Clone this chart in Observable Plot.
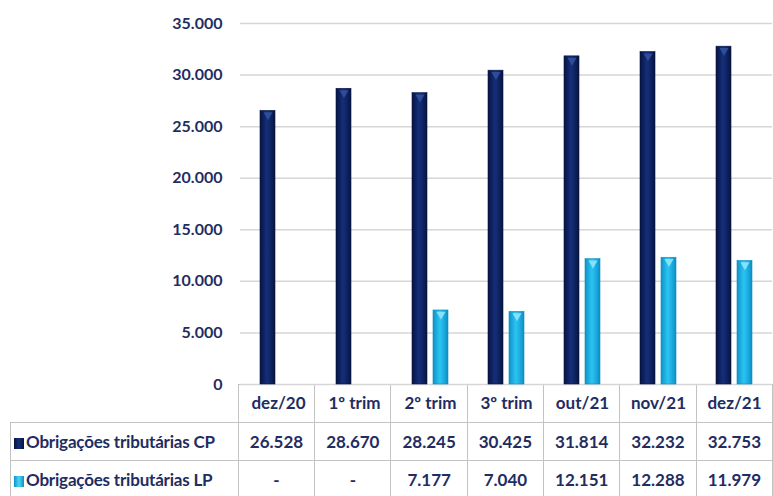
<!DOCTYPE html>
<html>
<head>
<meta charset="utf-8">
<script src="https://cdn.jsdelivr.net/npm/d3@7"></script>
<script src="https://cdn.jsdelivr.net/npm/@observablehq/plot@0.6"></script>
<style>
  html, body { margin: 0; padding: 0; background: #fff; }
  #wrap { position: relative; width: 773px; height: 496px; overflow: hidden; font-family: Lato, "Open Sans", sans-serif; color: #1f2d62; }
  #wrap svg { position: absolute; left: 0; top: 0; background: transparent; }
  table.tbl { position: absolute; left: 10px; top: 384px; border-collapse: collapse; table-layout: fixed; font-weight: 700; font-size: 17px; color: #1f2d62; }
  table.tbl td { border: 1.5px solid #c3c3c3; text-align: center; padding: 0; white-space: nowrap; overflow: hidden; }
  table.tbl tr.head td { height: 37px; }
  table.tbl tr.head td.blank { border: none; border-right: 1.5px solid #c3c3c3; }
  table.tbl tr.row td { height: 37px; }
  table.tbl td.lab { text-align: left; padding-left: 3px; letter-spacing: -0.2px; }
  .sw { display: inline-block; width: 10px; height: 11px; margin-right: 2px; vertical-align: -1px; }
</style>
</head>
<body>
<div id="wrap"></div>
<script>
// ---- data ----
const categories = ["dez/20", "1º trim", "2º trim", "3º trim", "out/21", "nov/21", "dez/21"];
const seriesNames = ["Obrigações tributárias CP", "Obrigações tributárias LP"];
const cpValues = [26528, 28670, 28245, 30425, 31814, 32232, 32753];
const lpValues = [null, null, 7177, 7040, 12151, 12288, 11979];
const yTicks = [0, 5000, 10000, 15000, 20000, 25000, 30000, 35000];

const ptBR = d3.formatLocale({decimal: ",", thousands: ".", grouping: [3], currency: ["R$", ""]});
const fmt = ptBR.format(",d");

const data = [];
categories.forEach((c, i) => {
  data.push({cat: c, series: "CP", value: cpValues[i]});
  if (lpValues[i] != null) data.push({cat: c, series: "LP", value: lpValues[i]});
});
const cpData = data.filter(d => d.series === "CP");
const lpData = data.filter(d => d.series === "LP");

const textColor = "#1f2d62";

const chart = Plot.plot({
  width: 773,
  height: 422,
  marginLeft: 238,
  marginRight: 0,
  marginTop: 23,
  marginBottom: 38,
  style: {fontFamily: "Lato, 'Open Sans', sans-serif", fontSize: "16px", fontWeight: 700, color: textColor, background: "transparent", overflow: "visible"},
  fx: {domain: categories, padding: 0, label: null},
  x: {domain: ["CP", "LP"], paddingInner: 0.273, paddingOuter: 0.873, axis: null},
  y: {domain: [0, 35000], label: null},
  marks: [
    Plot.gridY(yTicks, {stroke: "#d6d6d6", strokeOpacity: 1, strokeWidth: 1.5}),
    Plot.axisY(yTicks, {tickSize: 0, tickPadding: 18, tickFormat: fmt, fill: textColor, fontSize: 16, fontWeight: 700, label: null}),
    Plot.axisFx({anchor: "bottom", tickSize: 0, tickPadding: 12, fill: textColor, fontSize: 17, fontWeight: 700, label: null}),
    Plot.barY(cpData, {fx: "cat", x: "series", y: "value", fill: "url(#gCP)", stroke: "#071645", strokeWidth: 0.6}),
    Plot.barY(lpData, {fx: "cat", x: "series", y: "value", fill: "url(#gLP)", stroke: "#0b8cc0", strokeWidth: 0.6}),
    Plot.dot(cpData, {fx: "cat", x: "series", y: "value", symbol: "triangle", rotate: 180, r: 3.4, dy: 4, fill: "#34549f", fillOpacity: 0.85}),
    Plot.dot(lpData, {fx: "cat", x: "series", y: "value", symbol: "triangle", rotate: 180, r: 3.4, dy: 4, fill: "#8fe6fb", fillOpacity: 0.9})
  ]
});

// gradients for cylindrical look
const defs = d3.select(chart).insert("defs", ":first-child");
function grad(id, stops) {
  const g = defs.append("linearGradient").attr("id", id).attr("x1", "0").attr("x2", "1").attr("y1", "0").attr("y2", "0");
  stops.forEach(([o, c]) => g.append("stop").attr("offset", o).attr("stop-color", c));
}
grad("gCP", [[0, "#061440"], [0.45, "#142e78"], [0.6, "#12296e"], [1, "#061440"]]);
grad("gLP", [[0, "#0c93c9"], [0.45, "#2cc3f2"], [0.6, "#25b8ea"], [1, "#0c8fc4"]]);

const wrap = document.getElementById("wrap");

// table
const table = document.createElement("table");
table.className = "tbl";
const colW = (773 - 238) / categories.length;
const cg = document.createElement("colgroup");
const c0 = document.createElement("col"); c0.style.width = "228px"; cg.appendChild(c0);
categories.forEach(() => { const c = document.createElement("col"); c.style.width = colW + "px"; cg.appendChild(c); });
table.appendChild(cg);

const head = document.createElement("tr"); head.className = "head";
const b = document.createElement("td"); b.className = "blank"; head.appendChild(b);
categories.forEach(() => { head.appendChild(document.createElement("td")); });
table.appendChild(head);

const swatches = ["linear-gradient(90deg,#061440,#142e78,#061440)", "linear-gradient(90deg,#0c93c9,#4fd4f7,#0c8fc4)"];
[cpValues, lpValues].forEach((vals, si) => {
  const tr = document.createElement("tr"); tr.className = "row";
  const lab = document.createElement("td"); lab.className = "lab";
  const sw = document.createElement("span"); sw.className = "sw"; sw.style.background = swatches[si];
  lab.appendChild(sw);
  lab.appendChild(document.createTextNode(seriesNames[si]));
  tr.appendChild(lab);
  vals.forEach(v => { const td = document.createElement("td"); td.textContent = v == null ? "-" : fmt(v); tr.appendChild(td); });
  table.appendChild(tr);
});

wrap.appendChild(table);
wrap.appendChild(chart);
</script>
</body>
</html>
